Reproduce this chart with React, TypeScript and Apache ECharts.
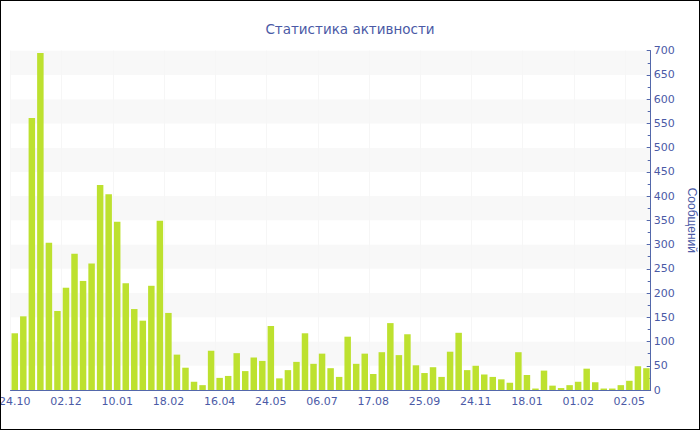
import React, { useEffect, useRef } from "react";
import * as echarts from "echarts";

const titleText = "Статистика активности";
const yAxisName = "Сообщений";

const categories = [
  "24.10", "31.10", "06.11", "13.11", "19.11", "26.11",
  "02.12", "08.12", "15.12", "21.12", "28.12", "03.01",
  "10.01", "16.01", "23.01", "29.01", "05.02", "11.02",
  "18.02", "27.02", "09.03", "18.03", "28.03", "06.04",
  "16.04", "22.04", "29.04", "05.05", "11.05", "18.05",
  "24.05", "31.05", "07.06", "14.06", "21.06", "28.06",
  "06.07", "13.07", "20.07", "27.07", "03.08", "10.08",
  "17.08", "23.08", "30.08", "06.09", "12.09", "19.09",
  "25.09", "05.10", "15.10", "25.10", "04.11", "14.11",
  "24.11", "03.12", "12.12", "21.12", "30.12", "09.01",
  "18.01", "20.01", "22.01", "25.01", "27.01", "29.01",
  "01.02", "16.02", "01.03", "16.03", "01.04", "16.04",
  "02.05", "09.05", "16.05",
];

const messages = [
  117, 152, 561, 695, 304, 163, 211, 281, 225, 261, 423, 404, 347,
  220, 167, 143, 215, 349, 159, 73, 46, 17, 10, 81, 25, 29,
  76, 39, 67, 60, 132, 24, 41, 58, 117, 54, 75, 45, 27, 110,
  54, 75, 33, 78, 138, 72, 115, 51, 35, 47, 27, 79,
  118, 41, 50, 32, 27, 22, 15, 78, 31, 3, 40, 9, 4, 10,
  17, 44, 16, 3, 3, 10, 19, 49, 45,
];

const textColor = "#4b5aa6";
const axisColor = "#5468ab";
const barColor = "#bde12f";

export default function App() {
  const ref = useRef<HTMLDivElement>(null);
  useEffect(() => {
    document.body.style.margin = "0";
    if (!ref.current) return;
    const chart = echarts.init(ref.current, undefined, { renderer: "svg" });
    chart.setOption({
      animation: false,
      title: {
        text: titleText,
        left: "center",
        top: 16,
        textStyle: {
          color: textColor,
          fontFamily: "DejaVu Sans",
          fontSize: 13.5,
          fontWeight: "normal",
        },
      },
      grid: {
        left: 9.5,
        right: 48.3,
        top: 49.7,
        bottom: 39,
        containLabel: false,
        outerBoundsMode: "none",
      },
      xAxis: {
        type: "category",
        data: categories,
        boundaryGap: true,
        axisLine: { lineStyle: { color: axisColor, width: 1 } },
        axisTick: {
          alignWithLabel: true,
          interval: 5,
          length: 4,
          lineStyle: { color: axisColor },
        },
        axisLabel: {
          interval: 5,
          color: textColor,
          fontFamily: "DejaVu Sans",
          fontSize: 11,
          margin: 6,
          hideOverlap: false,
        },
        splitLine: {
          show: true,
          interval: 5,
          lineStyle: { color: "#f6f6f6", width: 1 },
        },
      },
      yAxis: {
        type: "value",
        position: "right",
        min: 0,
        max: 700,
        interval: 50,
        name: yAxisName,
        nameLocation: "middle",
        nameRotate: -90,
        nameGap: 35,
        nameTextStyle: {
          color: textColor,
          fontFamily: "Liberation Sans",
          fontSize: 12,
        },
        axisLine: { show: true, lineStyle: { color: axisColor, width: 1 } },
        axisTick: {
          show: true,
          inside: true,
          length: 4,
          lineStyle: { color: axisColor },
        },
        minorTick: {
          show: true,
          splitNumber: 2,
          length: 3,
          lineStyle: { color: axisColor },
        },
        axisLabel: {
          color: textColor,
          fontFamily: "DejaVu Sans",
          fontSize: 11,
          margin: 3,
          showMinLabel: true,
          showMaxLabel: true,
        },
        splitLine: { show: false },
        splitArea: {
          show: true,
          areaStyle: { color: ["#ffffff", "#f8f8f8"] },
        },
      },
      series: [
        {
          type: "bar",
          data: messages,
          barCategoryGap: "24%",
          itemStyle: { color: barColor },
        },
      ],
    });
    return () => chart.dispose();
  }, []);
  return (
    <div
      style={{
        width: 700,
        height: 430,
        boxSizing: "border-box",
        border: "1px solid #000",
        background: "#fff",
      }}
    >
      <div ref={ref} style={{ width: 698, height: 428 }} />
    </div>
  );
}
